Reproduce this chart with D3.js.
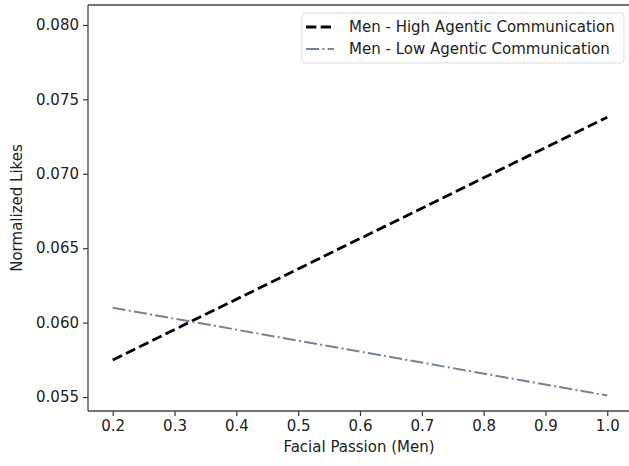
<!DOCTYPE html>
<html>
<head>
<meta charset="utf-8">
<script src="https://cdn.jsdelivr.net/npm/d3@7"></script>
<style>
  body { margin: 0; background: #fff; }
  svg { display: block; font-family: "DejaVu Sans", sans-serif; }
</style>
</head>
<body>
<svg id="chart" width="629" height="466"></svg>
<script>
// data
var passion = [0.2, 1.0];
var highAgentic = [0.05749, 0.0738];
var lowAgentic = [0.0610, 0.0551];
var xTicks = [0.2, 0.3, 0.4, 0.5, 0.6, 0.7, 0.8, 0.9, 1.0];
var yTicks = [0.055, 0.060, 0.065, 0.070, 0.075, 0.080];
var seriesNames = ["Men - High Agentic Communication", "Men - Low Agentic Communication"];

var margin = { left: 88, top: 5, right: 632, bottom: 411 };

var svg = d3.select("#chart");

var x = d3.scaleLinear().domain([0.16, 1.04]).range([margin.left, margin.right]);
var y = d3.scaleLinear().domain([0.05406, 0.08134]).range([margin.bottom, margin.top]);

// axes
var xAxis = d3.axisBottom(x).tickValues(xTicks).tickFormat(d3.format(".1f")).tickSize(5).tickPadding(4);
var yAxis = d3.axisLeft(y).tickValues(yTicks).tickFormat(d3.format(".3f")).tickSize(5).tickPadding(4);

var gx = svg.append("g").attr("transform", "translate(0," + margin.bottom + ")").call(xAxis);
var gy = svg.append("g").attr("transform", "translate(" + margin.left + ",0)").call(yAxis);

[gx, gy].forEach(function (g) {
  g.select(".domain").remove();
  g.selectAll(".tick line").attr("stroke", "#333").attr("stroke-width", 1.2);
  g.selectAll(".tick text").attr("fill", "#222").style("font-size", "15px").style("font-family", "DejaVu Sans, sans-serif");
});

// spines (right one falls off the picture)
var spine = svg.append("g").attr("stroke", "#444").attr("stroke-width", 1.3);
spine.append("line").attr("x1", margin.left).attr("x2", 629).attr("y1", margin.top).attr("y2", margin.top);
spine.append("line").attr("x1", margin.left).attr("x2", 629).attr("y1", margin.bottom).attr("y2", margin.bottom);
spine.append("line").attr("x1", margin.left).attr("x2", margin.left).attr("y1", margin.top).attr("y2", margin.bottom);

var line = d3.line()
  .x(function (d) { return x(d[0]); })
  .y(function (d) { return y(d[1]); });

svg.append("path")
  .datum(d3.zip(passion, highAgentic))
  .attr("d", line)
  .attr("fill", "none")
  .attr("stroke", "#000")
  .attr("stroke-width", 2.8)
  .attr("stroke-dasharray", "10.3,4.4");

svg.append("path")
  .datum(d3.zip(passion, lowAgentic))
  .attr("d", line)
  .attr("fill", "none")
  .attr("stroke", "#748494")
  .attr("stroke-width", 2)
  .attr("stroke-dasharray", "13,3.3,2,3.3");

// axis labels
svg.append("text")
  .attr("x", 359)
  .attr("y", 452)
  .attr("text-anchor", "middle")
  .style("font-size", "15px")
  .attr("fill", "#222")
  .text("Facial Passion (Men)");

svg.append("text")
  .attr("transform", "translate(22," + ((margin.top + margin.bottom) / 2) + ") rotate(-90)")
  .attr("text-anchor", "middle")
  .style("font-size", "15px")
  .attr("fill", "#222")
  .text("Normalized Likes");

// legend
var legend = svg.append("g");
legend.append("rect")
  .attr("x", 302).attr("y", 13)
  .attr("width", 322).attr("height", 50)
  .attr("rx", 3)
  .attr("fill", "#fff")
  .attr("stroke", "#ddd");

var legendStyles = [
  { stroke: "#000", width: 2.8, dash: "10.3,4.4" },
  { stroke: "#748494", width: 2, dash: "13,3.3,2,3.3" }
];

seriesNames.forEach(function (name, i) {
  var ly = 27 + i * 22;
  legend.append("line")
    .attr("x1", 306).attr("x2", 334)
    .attr("y1", ly).attr("y2", ly)
    .attr("stroke", legendStyles[i].stroke)
    .attr("stroke-width", legendStyles[i].width)
    .attr("stroke-dasharray", legendStyles[i].dash);
  legend.append("text")
    .attr("x", 349).attr("y", ly + 5)
    .style("font-size", "15px")
    .attr("fill", "#222")
    .text(name);
});
</script>
</body>
</html>
